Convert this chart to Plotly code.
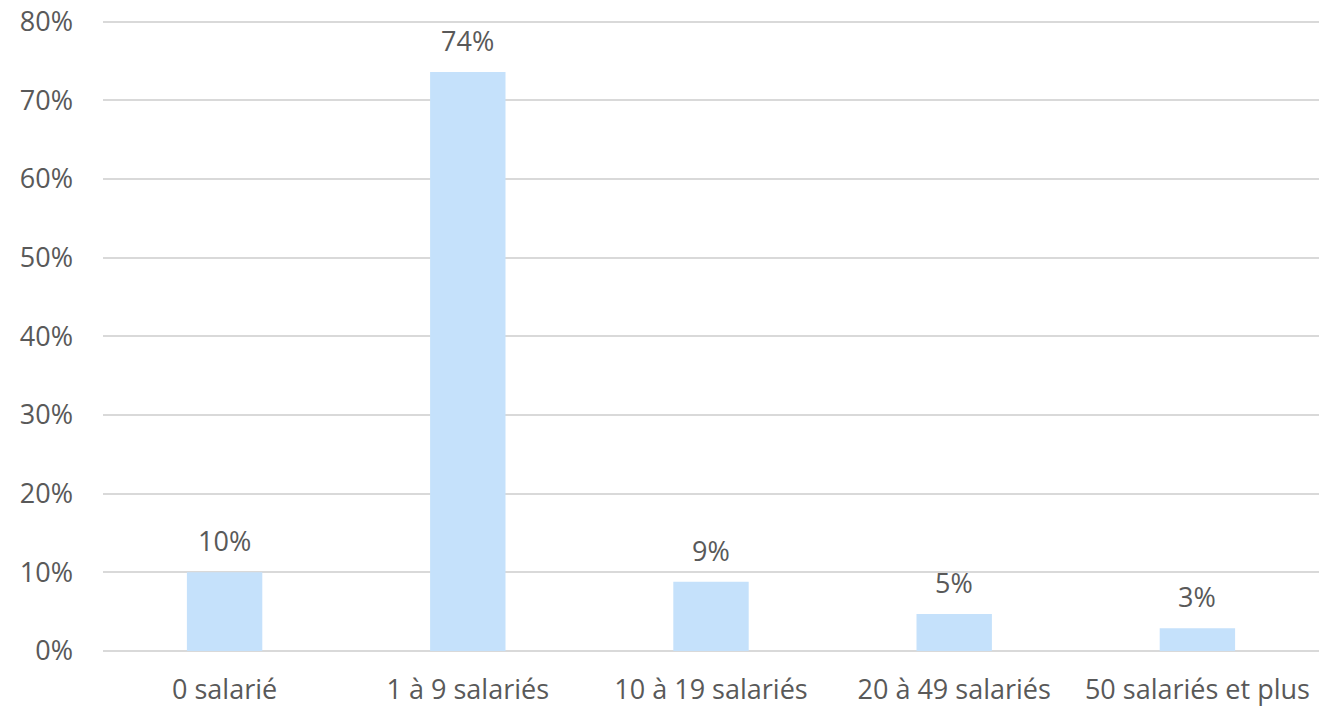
import plotly.graph_objects as go

categories = ["0 salarié", "1 à 9 salariés", "10 à 19 salariés", "20 à 49 salariés", "50 salariés et plus"]
values = [0.10, 0.736, 0.088, 0.047, 0.029]
labels = ["10%", "74%", "9%", "5%", "3%"]
y_ticks = [0, 0.1, 0.2, 0.3, 0.4, 0.5, 0.6, 0.7, 0.8]
y_tick_text = ["0%", "10%", "20%", "30%", "40%", "50%", "60%", "70%", "80%"]

FONT = "Open Sans"
GRAY = "#595959"
FS = 27

fig = go.Figure()
fig.add_trace(go.Bar(
    x=categories, y=values, width=0.31,
    marker=dict(color="#C5E1FB", line=dict(width=0)),
    hoverinfo="skip",
))
for c, v, t in zip(categories, values, labels):
    fig.add_annotation(x=c, y=v, text=t, showarrow=False, yanchor="bottom",
                       yshift=11, font=dict(family=FONT, size=FS, color=GRAY))

fig.update_layout(
    width=1327, height=707,
    margin=dict(l=103, r=8, t=20, b=56),
    paper_bgcolor="white", plot_bgcolor="white",
    showlegend=False,
    font=dict(family=FONT, size=FS, color=GRAY),
)
fig.update_xaxes(showgrid=False, showline=False, ticks="", ticklabelstandoff=20,
                 automargin=False, ticklabeloverflow="allow",
                 tickfont=dict(family=FONT, size=FS, color=GRAY))
fig.update_yaxes(range=[0, 0.802], tickvals=y_ticks, ticktext=y_tick_text,
                 showgrid=True, gridcolor="#D9D9D9", gridwidth=1.5,
                 zeroline=True, zerolinecolor="#D9D9D9", zerolinewidth=1.5,
                 showline=False, ticks="", ticklabelstandoff=29, automargin=False,
                 ticklabeloverflow="allow",
                 tickfont=dict(family=FONT, size=FS, color=GRAY))
fig.write_html("out.html", config={"displayModeBar": False},
               post_script="document.body.style.margin='0';")
